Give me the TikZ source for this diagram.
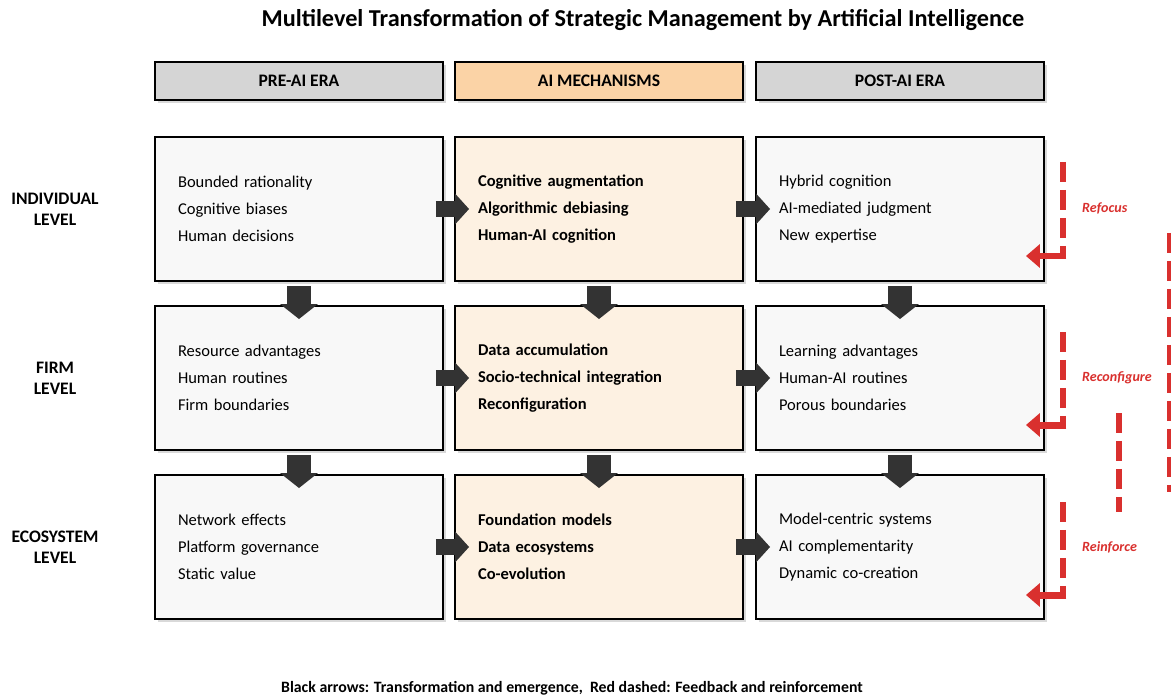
\documentclass[tikz,border=0pt]{standalone}
\usepackage{fontspec}
\setmainfont{Carlito}
\usetikzlibrary{arrows.meta,shadows}

\definecolor{eragrey}{HTML}{D5D5D5}
\definecolor{eraorange}{HTML}{FBD3A6}
\definecolor{cellgrey}{HTML}{F8F8F8}
\definecolor{cellpeach}{HTML}{FDF1E2}
\definecolor{arrowgrey}{HTML}{333333}
\definecolor{fbred}{HTML}{D9302E}

\tikzset{
  boxshadow/.style={drop shadow={shadow xshift=1.5pt,shadow yshift=-1.5pt,opacity=0.3}},
  title/.style={font=\fontsize{13.8}{16}\selectfont\bfseries},
  era/.style={draw=black, line width=1.2pt, minimum width=5.76cm, minimum height=0.76cm,
    font=\fontsize{10}{12}\selectfont\bfseries, boxshadow},
  cell/.style={draw=black, line width=1.1pt, minimum width=5.76cm, minimum height=2.88cm,
    text width=4.84cm, inner xsep=0.46cm, align=left, boxshadow},
  plain/.style={font=\fontsize{9.4}{15.4}\selectfont},
  strong/.style={font=\fontsize{9.4}{15.4}\selectfont\bfseries},
  lvl/.style={align=center, font=\fontsize{10}{12}\selectfont\bfseries},
  hblock/.style={arrowgrey, line width=0.32cm, -{Triangle[width=0.6cm,length=0.28cm]},
    shorten <=-0.16cm, shorten >=-0.3cm},
  vblock/.style={arrowgrey, line width=0.48cm, -{Triangle[width=0.74cm,length=0.3cm]},
    shorten <=0.08cm, shorten >=-0.28cm},
  fbdash/.style={fbred, line width=0.11cm, dash pattern=on 0.4cm off 0.16cm},
  fbarrow/.style={fbred, line width=0.14cm, -{Triangle[width=0.46cm,length=0.28cm]},
    shorten <=-0.065cm, shorten >=-0.38cm},
  fblab/.style={anchor=west, text=fbred, font=\fontsize{8}{10}\selectfont\bfseries\itshape},
  legend/.style={font=\fontsize{9}{11}\selectfont\bfseries}
}

\begin{document}
\begin{tikzpicture}[x=0.02cm,y=-0.02cm]
\useasboundingbox (0,0) rectangle (1171,696);

\node[title] (ttl) at (643,20) {Multilevel Transformation of Strategic Management by Artificial Intelligence};

% column heads
\node[era,fill=eragrey] (h1) at (299,81) {PRE-AI ERA};
\node[era,fill=eraorange] (h2) at (599,81) {AI MECHANISMS};
\node[era,fill=eragrey] (h3) at (900,81) {POST-AI ERA};

% levels
\node[lvl] (l1) at (55,209) {INDIVIDUAL\\LEVEL};
\node[lvl] (l2) at (55,378) {FIRM\\LEVEL};
\node[lvl] (l3) at (55,547) {ECOSYSTEM\\LEVEL};

% individual
\node[cell,plain,fill=cellgrey] (b11) at (299,209) {Bounded rationality\\Cognitive biases\\Human decisions};
\node[cell,strong,fill=cellpeach] (b12) at (599,209) {Cognitive augmentation\\Algorithmic debiasing\\Human-AI cognition};
\node[cell,plain,fill=cellgrey] (b13) at (900,209) {Hybrid cognition\\AI-mediated judgment\\New expertise};

% firm
\node[cell,plain,fill=cellgrey] (b21) at (299,378) {Resource advantages\\Human routines\\Firm boundaries};
\node[cell,strong,fill=cellpeach] (b22) at (599,378) {Data accumulation\\Socio-technical integration\\Reconfiguration};
\node[cell,plain,fill=cellgrey] (b23) at (900,378) {Learning advantages\\Human-AI routines\\Porous boundaries};

% ecosystem
\node[cell,plain,fill=cellgrey] (b31) at (299,547) {Network effects\\Platform governance\\Static value};
\node[cell,strong,fill=cellpeach] (b32) at (599,547) {Foundation models\\Data ecosystems\\Co-evolution};
\node[cell,plain,fill=cellgrey] (b33) at (900,547) {Model-centric systems\\AI complementarity\\Dynamic co-creation};

% transformation arrows
\foreach \r in {1,2,3}{
  \draw[hblock] (b\r1.east) -- (b\r2.west);
  \draw[hblock] (b\r2.east) -- (b\r3.west);
}
\foreach \c in {1,2,3}{
  \draw[vblock] (b1\c.south) -- (b2\c.north);
  \draw[vblock] (b2\c.south) -- (b3\c.north);
}

% feedback loops
\foreach \r/\t/\b/\lab/\ly in {1/162/256/Refocus/208, 2/332/425/Reconfigure/378, 3/502/595/Reinforce/547}{
  \coordinate (ft\r) at (1063,\t);
  \coordinate (fb\r) at (1063,\b);
  \draw[fbdash] (ft\r) -- (fb\r);
  \draw[fbarrow] (fb\r) -- (b\r3.east |- fb\r);
  \node[fblab] (fl\r) at (1076,\ly) {\lab};
}
\coordinate (ma) at (1119,413);
\coordinate (mb) at (1119,512);
\draw[fbdash] (ma) -- (mb);
\coordinate (ra) at (1169,233);
\coordinate (rb) at (1169,492);
\draw[fbdash,line width=0.08cm] (ra) -- (rb);

\node[legend] (key) at (572,688) {Black arrows: Transformation and emergence,\ \ Red dashed: Feedback and reinforcement};
\end{tikzpicture}
\end{document}
